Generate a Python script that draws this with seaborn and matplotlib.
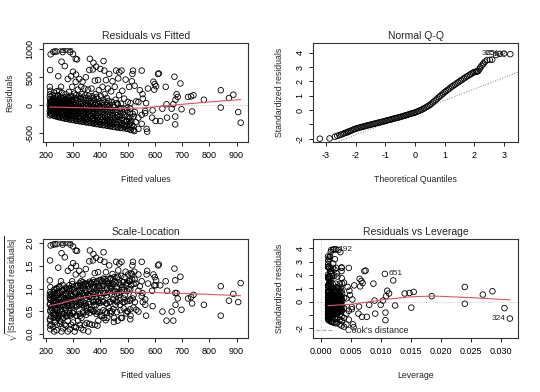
import matplotlib
matplotlib.use("Agg")
import matplotlib.pyplot as plt
import seaborn as sns
from matplotlib.lines import Line2D

# ---- Residuals vs Fitted (one line per fitted-value band)
rvf_fitted = (
    [215, 216, 215, 217, 216, 215, 217, 216, 215, 216, 217, 215, 216, 218]
    + [222, 227, 224, 229, 221, 226, 223, 228, 225, 230]
    + [232, 237, 234, 239, 231, 236, 233, 238, 235, 240, 228]
    + [242, 247, 244, 249, 241, 246, 243, 248, 245, 250, 246, 234]
    + [252, 257, 254, 259, 251, 256, 253, 258, 255, 260, 256, 258]
    + [265, 270, 267, 272, 264, 269, 266, 271, 268, 273, 270, 240]
    + [277, 282, 279, 284, 276, 281, 278, 283, 280, 285, 281, 262]
    + [289, 294, 291, 296, 288, 293, 290, 295, 292, 297, 293, 290]
    + [302, 307, 304, 309, 301, 306, 303, 308, 305, 310, 300, 300, 310, 315, 311]
    + [315, 320, 317, 322, 314, 319, 316, 321, 318, 323]
    + [327, 332, 329, 334, 326, 331, 328, 333, 330, 335]
    + [339, 344, 341, 346, 338, 343, 340, 345, 342, 347]
    + [352, 357, 354, 359, 351, 356, 353, 358, 355, 360, 362]
    + [365, 370, 367, 372, 364, 369, 366, 371, 368, 373, 375]
    + [377, 382, 379, 384, 376, 381, 378, 383, 380, 385]
    + [389, 394, 391, 396, 388, 393, 390, 395, 392, 400]
    + [402, 407, 404, 409, 401, 406, 403, 408, 412, 415]
    + [415, 420, 417, 422, 414, 419, 416, 421]
    + [427, 432, 429, 434, 426, 431, 428, 433]
    + [439, 444, 441, 446, 438, 443, 440, 445]
    + [452, 457, 454, 459, 451, 456, 453, 458]
    + [465, 470, 467, 472, 464, 469, 466, 470]
    + [477, 482, 479, 484, 476, 481, 478]
    + [489, 494, 491, 496, 488, 493]
    + [502, 507, 504, 509, 501, 506]
    + [512, 517, 514, 519, 511, 516, 518, 520]
    + [525, 530, 527, 532, 526]
    + [540, 540, 540, 545]
    + [552, 552, 552, 555, 556]
    + [565, 565, 568, 570, 572, 575]
    + [590, 592, 595, 598, 600, 603, 605]
    + [612, 615, 620, 628, 640, 643, 645]
    + [662, 668, 672, 675, 675, 676, 680, 684, 694, 698]
    + [722, 733, 737, 742, 780, 842, 842, 872, 888, 906, 915]
)
rvf_resid = (
    [-180, -140, -100, -60, -20, 20, 60, 100, 150, 200, 260, 330, 630, 910]
    + [-170, -120, -70, -30, 10, 50, 90, 130, 180, 230]
    + [-190, -130, -80, -40, 0, 40, 80, 120, 170, 250, 955]
    + [-200, -150, -100, -50, -10, 30, 70, 110, 180, 260, 520, 960]
    + [-210, -160, -110, -60, -20, 20, 60, 100, 150, 220, 330, 780]
    + [-230, -170, -120, -70, -30, 10, 50, 90, 140, 200, 700, 960]
    + [-240, -180, -130, -80, -40, 0, 40, 90, 150, 240, 470, 950]
    + [-250, -190, -140, -90, -50, -10, 40, 100, 170, 330, 520, 950]
    + [-260, -200, -150, -100, -50, 0, 60, 130, 210, 420, 600, 915, 830, 820, 550]
    + [-270, -210, -150, -100, -40, 20, 90, 170, 280, 470]
    + [-280, -220, -160, -100, -40, 30, 110, 200, 330, 420]
    + [-290, -230, -170, -110, -50, 10, 90, 180, 300, 500]
    + [-300, -240, -180, -120, -60, 0, 80, 170, 280, 630, 830]
    + [-310, -250, -190, -130, -70, -10, 70, 160, 300, 640, 760]
    + [-320, -260, -190, -130, -60, 10, 100, 200, 440, 690]
    + [-330, -270, -200, -130, -60, 20, 120, 270, 450, 650]
    + [-340, -270, -200, -120, -40, 40, 160, 330, 790, 620]
    + [-350, -280, -200, -110, -30, 60, 200, 450]
    + [-360, -290, -210, -120, -30, 80, 300, 560]
    + [-370, -300, -220, -140, -50, 60, 250, 430]
    + [-380, -300, -220, -130, -30, 100, 330, 620]
    + [-390, -300, -200, -100, 20, 180, 480, 590]
    + [-400, -320, -230, -120, 30, 260, 620]
    + [-380, -290, -180, -50, 120, 460]
    + [-420, -330, -240, -130, 60, 330]
    + [-440, -350, -280, -150, 40, 430, 560, 620]
    + [-460, -300, -120, 70, 350]
    + [-420, -220, 60, 270]
    + [-330, -170, 620, 200, 120]
    + [-100, -140, 40, -420, -470, 300]
    + [-220, -90, 420, 280, 380, -280, 340]
    + [560, 570, -280, -60, 330, 20, -220]
    + [-60, 20, 510, -200, -340, 100, 200, 150, 390, -70]
    + [150, 160, -110, 180, 100, 270, -40, 130, 190, -120, -310]
)
# the dark band below the smoother, between the bands above
rvf_band_fitted = (
    [220] * 7 + [230] * 8 + [240] * 8 + [250] * 9 + [262] * 9 + [274] * 9
    + [286] * 9 + [298] * 9 + [311] * 9 + [324] * 8 + [336] * 8 + [348] * 8
    + [361] * 8 + [374] * 8 + [386] * 8 + [398] * 7 + [411] * 7 + [424] * 7
    + [436] * 6 + [448] * 6 + [461] * 6 + [474] * 5 + [486] * 5 + [498] * 5
    + [510] * 5 + [522] * 3
)
rvf_band_resid = (
    [-160, -120, -80, -40, 0, 40, 80]
    + [-180, -150, -100, -50, -10, 30, 70, 110]
    + [-200, -165, -120, -70, -25, 15, 55, 95]
    + [-215, -180, -130, -85, -40, 0, 45, 85, 125]
    + [-225, -195, -145, -95, -50, -5, 35, 75, 120]
    + [-240, -205, -155, -105, -60, -20, 25, 70, 115]
    + [-250, -215, -165, -115, -70, -30, 15, 65, 130]
    + [-262, -225, -175, -125, -75, -25, 25, 85, 150]
    + [-275, -235, -180, -125, -75, -20, 35, 100, 180]
    + [-285, -245, -190, -130, -70, -10, 55, 130]
    + [-295, -255, -195, -135, -75, -15, 50, 140]
    + [-305, -265, -205, -145, -85, -25, 40, 130]
    + [-315, -275, -210, -150, -90, -30, 40, 120]
    + [-325, -285, -220, -160, -100, -40, 35, 130]
    + [-335, -295, -225, -160, -95, -25, 50, 150]
    + [-345, -300, -235, -165, -95, -20, 70]
    + [-355, -305, -235, -160, -80, 0, 100]
    + [-365, -320, -245, -165, -75, 10, 130]
    + [-375, -330, -255, -175, -90, 10]
    + [-385, -335, -260, -180, -95, 0]
    + [-395, -340, -260, -175, -80, 40]
    + [-405, -355, -265, -160, -50]
    + [-410, -355, -270, -170, -60]
    + [-420, -360, -290, -200, -90]
    + [-430, -380, -310, -210, -60]
    + [-440, -380, -200]
)
rvf_smooth_x = [215, 300, 400, 480, 546, 620, 729, 820, 915]
rvf_smooth_y = [-30, -40, -50, -58, -50, -18, 31, 68, 103]
rvf_ids = ["192", "651", "325"]
rvf_id_x = [228, 234, 240]
rvf_id_y = [955, 960, 960]

# ---- Normal Q-Q
qq_theoretical = (
    [-3.21, -2.88, -2.70, -2.62, -2.55, -2.49, -2.43, -2.38, -2.33, -2.28]
    + [-2.25, -2.20, -2.15, -2.10, -2.05, -2.00]
    + [-1.95, -1.90, -1.85, -1.80, -1.75, -1.70, -1.65, -1.60, -1.55, -1.50]
    + [-1.45, -1.40, -1.35, -1.30, -1.25, -1.20, -1.15, -1.10, -1.05, -1.00]
    + [-0.95, -0.90, -0.85, -0.80, -0.75, -0.70, -0.65, -0.60, -0.55, -0.50]
    + [-0.45, -0.40, -0.35, -0.30, -0.25, -0.20, -0.15, -0.10, -0.05, 0.00]
    + [0.05, 0.10, 0.15, 0.20, 0.25, 0.30, 0.35, 0.40, 0.45, 0.50]
    + [0.55, 0.60, 0.65, 0.70, 0.75, 0.80, 0.85, 0.90, 0.95, 1.00]
    + [1.05, 1.10, 1.15, 1.20, 1.25, 1.30, 1.35, 1.40, 1.45, 1.50]
    + [1.55, 1.60, 1.65, 1.70, 1.75, 1.80, 1.85, 1.90, 1.95, 2.00]
    + [2.05, 2.09, 2.13, 2.17, 2.20, 2.24, 2.28, 2.31, 2.36, 2.43, 2.52, 2.60, 2.73, 2.86, 3.00, 3.21]
)
qq_sample = (
    [-2.00, -1.98, -1.86, -1.80, -1.75, -1.71, -1.66, -1.62, -1.58, -1.55]
    + [-1.51, -1.47, -1.43, -1.38, -1.34, -1.30]
    + [-1.27, -1.24, -1.21, -1.18, -1.16, -1.13, -1.10, -1.07, -1.05, -1.02]
    + [-0.99, -0.97, -0.94, -0.91, -0.89, -0.86, -0.84, -0.81, -0.79, -0.76]
    + [-0.73, -0.70, -0.68, -0.65, -0.62, -0.59, -0.56, -0.54, -0.51, -0.48]
    + [-0.45, -0.42, -0.39, -0.36, -0.33, -0.29, -0.26, -0.23, -0.20, -0.17]
    + [-0.13, -0.08, -0.04, 0.01, 0.05, 0.11, 0.17, 0.23, 0.29, 0.35]
    + [0.44, 0.53, 0.62, 0.71, 0.80, 0.89, 0.98, 1.07, 1.16, 1.25]
    + [1.33, 1.41, 1.49, 1.57, 1.65, 1.72, 1.79, 1.86, 1.93, 2.00]
    + [2.07, 2.14, 2.21, 2.28, 2.35, 2.41, 2.47, 2.54, 2.60, 2.66]
    + [2.68, 2.69, 2.72, 2.85, 2.98, 3.08, 3.18, 3.26, 3.38, 3.49, 3.50, 3.52, 3.84, 3.92, 3.94, 3.90]
)
qq_line_intercept = -0.13
qq_line_slope = 0.80
qq_ids = ["325", "651", "192"]
qq_id_x = [2.86, 3.00, 3.21]
qq_id_y = [3.92, 3.94, 3.90]

# ---- Scale-Location (same fitted bands as the first panel, plus extra points)
sl_root = (
    [0.86, 0.76, 0.64, 0.49, 0.29, 0.33, 0.52, 0.67, 0.80, 0.92, 1.03, 1.18, 1.62, 1.95]
    + [0.83, 0.70, 0.53, 0.35, 0.20, 0.45, 0.61, 0.73, 0.86, 0.97]
    + [0.88, 0.73, 0.57, 0.40, 0.05, 0.42, 0.59, 0.70, 0.83, 1.01, 1.97]
    + [0.90, 0.78, 0.64, 0.45, 0.20, 0.35, 0.53, 0.67, 0.86, 1.03, 1.46, 1.98]
    + [0.93, 0.81, 0.67, 0.49, 0.29, 0.27, 0.50, 0.64, 0.78, 0.95, 1.16, 1.78]
    + [0.97, 0.83, 0.70, 0.53, 0.35, 0.20, 0.45, 0.61, 0.76, 0.90, 1.69, 1.98]
    + [0.99, 0.86, 0.73, 0.57, 0.40, 0.05, 0.40, 0.61, 0.78, 0.99, 1.39, 1.97]
    + [1.01, 0.88, 0.76, 0.61, 0.45, 0.20, 0.40, 0.64, 0.83, 1.16, 1.46, 1.97]
    + [1.03, 0.90, 0.78, 0.64, 0.45, 0.05, 0.49, 0.73, 0.93, 1.31, 1.56, 1.93, 1.84, 1.83, 1.50]
    + [1.05, 0.93, 0.78, 0.64, 0.40, 0.29, 0.61, 0.83, 1.07, 1.39]
    + [1.07, 0.95, 0.81, 0.64, 0.40, 0.35, 0.67, 0.90, 1.16, 1.31]
    + [1.09, 0.97, 0.83, 0.67, 0.45, 0.20, 0.61, 0.86, 1.11, 1.43]
    + [1.11, 0.99, 0.86, 0.70, 0.49, 0.05, 0.57, 0.83, 1.07, 1.60, 1.84]
    + [1.12, 1.01, 0.88, 0.73, 0.53, 0.20, 0.53, 0.81, 1.11, 1.62, 1.76]
    + [1.14, 1.03, 0.88, 0.73, 0.49, 0.20, 0.64, 0.90, 1.34, 1.68]
    + [1.16, 1.05, 0.90, 0.73, 0.49, 0.29, 0.70, 1.05, 1.36, 1.63]
    + [1.18, 1.05, 0.90, 0.70, 0.40, 0.40, 0.81, 1.16, 1.80, 1.59]
    + [1.20, 1.07, 0.90, 0.67, 0.35, 0.49, 0.90, 1.36]
    + [1.21, 1.09, 0.93, 0.70, 0.35, 0.57, 1.11, 1.51]
    + [1.23, 1.11, 0.95, 0.76, 0.45, 0.49, 1.01, 1.32]
    + [1.25, 1.11, 0.95, 0.73, 0.35, 0.64, 1.16, 1.59]
    + [1.26, 1.11, 0.90, 0.64, 0.29, 0.86, 1.40, 1.55]
    + [1.28, 1.14, 0.97, 0.70, 0.35, 1.03, 1.59]
    + [1.25, 1.09, 0.86, 0.45, 0.70, 1.37]
    + [1.31, 1.16, 0.99, 0.73, 0.49, 1.16]
    + [1.34, 1.20, 1.07, 0.78, 0.40, 1.32, 1.51, 1.59]
    + [1.37, 1.11, 0.70, 0.53, 1.20]
    + [1.31, 0.95, 0.49, 1.05]
    + [1.16, 0.83, 1.59, 0.90, 0.70]
    + [0.64, 0.76, 0.40, 1.31, 1.39, 1.11]
    + [0.95, 0.61, 1.31, 1.07, 1.25, 1.07, 1.18]
    + [1.51, 1.53, 1.07, 0.49, 1.16, 0.29, 0.95]
    + [0.49, 0.29, 1.44, 0.90, 1.18, 0.64, 0.90, 0.78, 1.26, 0.53]
    + [0.78, 0.81, 0.67, 0.86, 0.64, 1.05, 0.40, 0.73, 0.88, 0.70, 1.12]
)
sl_low_fitted = [217, 228, 240, 252, 263, 275, 288, 300, 312, 325, 338, 350,
                 216, 233, 258, 281, 305, 330, 360, 390, 420, 450, 480, 510]
sl_low_root = [0.10, 0.15, 0.08, 0.22, 0.12, 0.18, 0.10, 0.25, 0.14, 0.20, 0.08, 0.24,
               0.18, 0.26, 0.05, 0.28, 0.15, 0.12, 0.22, 0.18, 0.30, 0.26, 0.35, 0.32]
sl_band_fitted = (
    [220] * 4 + [230] * 4 + [240] * 5 + [250] * 5 + [262] * 5 + [274] * 5
    + [286] * 5 + [298] * 5 + [311] * 5 + [324] * 5 + [336] * 5 + [348] * 5
    + [361] * 5 + [374] * 5 + [386] * 5 + [398] * 5 + [411] * 5 + [424] * 5
    + [436] * 5 + [448] * 4 + [461] * 5 + [474] * 4 + [486] * 4 + [498] * 4
    + [510] * 4 + [522] * 3
)
sl_band_root = (
    [0.38, 0.58, 0.74, 0.88]
    + [0.42, 0.62, 0.78, 0.92]
    + [0.36, 0.55, 0.71, 0.85, 0.99]
    + [0.40, 0.60, 0.76, 0.90, 1.05]
    + [0.44, 0.63, 0.80, 0.95, 1.08]
    + [0.38, 0.57, 0.74, 0.89, 1.02]
    + [0.42, 0.62, 0.79, 0.94, 1.07]
    + [0.46, 0.66, 0.83, 0.97, 1.10]
    + [0.40, 0.60, 0.77, 0.92, 1.06]
    + [0.44, 0.64, 0.81, 0.96, 1.12]
    + [0.48, 0.68, 0.85, 1.00, 1.14]
    + [0.42, 0.62, 0.80, 0.95, 1.10]
    + [0.46, 0.66, 0.84, 0.99, 1.15]
    + [0.50, 0.70, 0.88, 1.03, 1.18]
    + [0.44, 0.64, 0.82, 0.98, 1.13]
    + [0.48, 0.68, 0.86, 1.02, 1.19]
    + [0.52, 0.72, 0.90, 1.06, 1.22]
    + [0.46, 0.67, 0.85, 1.01, 1.16]
    + [0.50, 0.71, 0.89, 1.05, 1.21]
    + [0.55, 0.75, 0.93, 1.09]
    + [0.48, 0.70, 0.88, 1.04, 1.24]
    + [0.52, 0.74, 0.92, 1.08]
    + [0.56, 0.78, 0.96, 1.14]
    + [0.50, 0.72, 0.94, 1.12]
    + [0.54, 0.76, 0.98, 1.18]
    + [0.58, 0.85, 1.10]
)
sl_smooth_x = [215, 260, 300, 350, 400, 450, 500, 600, 700, 800, 915]
sl_smooth_y = [0.62, 0.68, 0.75, 0.82, 0.87, 0.90, 0.92, 0.91, 0.89, 0.87, 0.84]
sl_ids = ["192", "651", "325"]
sl_id_x = [228, 234, 240]
sl_id_y = [1.97, 1.98, 1.98]

# ---- Residuals vs Leverage
rvl_leverage = (
    [0.0035, 0.0034, 0.0036, 0.0035, 0.0034, 0.0036, 0.0035, 0.0034, 0.0036, 0.0035, 0.0034, 0.0036, 0.0035, 0.0033]
    + [0.0032, 0.0031, 0.0033, 0.0031, 0.0033, 0.0032, 0.0031, 0.0032, 0.0033, 0.0031]
    + [0.0030, 0.0029, 0.0031, 0.0029, 0.0031, 0.0030, 0.0029, 0.0030, 0.0031, 0.0029, 0.0030]
    + [0.0027, 0.0026, 0.0028, 0.0027, 0.0028, 0.0026, 0.0027, 0.0028, 0.0026, 0.0027, 0.0027, 0.0026]
    + [0.0025, 0.0024, 0.0025, 0.0024, 0.0026, 0.0025, 0.0024, 0.0025, 0.0026, 0.0024, 0.0025, 0.0024]
    + [0.0022, 0.0021, 0.0023, 0.0021, 0.0022, 0.0023, 0.0022, 0.0021, 0.0022, 0.0023, 0.0021, 0.0023]
    + [0.0020, 0.0019, 0.0021, 0.0019, 0.0020, 0.0021, 0.0020, 0.0019, 0.0020, 0.0021, 0.0019, 0.0021]
    + [0.0018, 0.0017, 0.0018, 0.0017, 0.0019, 0.0018, 0.0017, 0.0018, 0.0019, 0.0017, 0.0018, 0.0018]
    + [0.0016, 0.0015, 0.0016, 0.0015, 0.0017, 0.0016, 0.0015, 0.0016, 0.0017, 0.0015, 0.0017, 0.0017, 0.0016, 0.0015, 0.0016]
    + [0.0015, 0.0014, 0.0015, 0.0014, 0.0015, 0.0014, 0.0015, 0.0014, 0.0015, 0.0014]
    + [0.0014, 0.0013, 0.0014, 0.0013, 0.0014, 0.0013, 0.0014, 0.0013, 0.0014, 0.0013]
    + [0.0013, 0.00128, 0.0013, 0.00128, 0.0013, 0.00128, 0.0013, 0.00128, 0.0013, 0.00128]
    + [0.00126, 0.00125, 0.00127, 0.00126, 0.00125, 0.00127, 0.00126, 0.00125, 0.00127, 0.00126, 0.00125]
    + [0.00125, 0.00126, 0.00125, 0.00126, 0.00125, 0.00126, 0.00125, 0.00126, 0.00125, 0.00126, 0.00127]
    + [0.00127, 0.00128, 0.00127, 0.00128, 0.00127, 0.00128, 0.00127, 0.00128, 0.00127, 0.00128]
    + [0.0013, 0.00132, 0.0013, 0.00132, 0.0013, 0.00132, 0.0013, 0.00132, 0.0013, 0.00135]
    + [0.0014, 0.00142, 0.0014, 0.00142, 0.0014, 0.00142, 0.0014, 0.00142, 0.00145, 0.0015]
    + [0.0015, 0.00152, 0.0015, 0.00152, 0.0015, 0.00152, 0.0015, 0.00152]
    + [0.0017, 0.00172, 0.0017, 0.00172, 0.0017, 0.00172, 0.0017, 0.00172]
    + [0.0018, 0.00182, 0.0018, 0.00182, 0.0018, 0.00182, 0.0018, 0.00182]
    + [0.0020, 0.00202, 0.0020, 0.00202, 0.0020, 0.00202, 0.0020, 0.00202]
    + [0.0023, 0.00232, 0.0023, 0.00232, 0.0023, 0.00232, 0.0023, 0.00232]
    + [0.0026, 0.00262, 0.0026, 0.00262, 0.0026, 0.00262, 0.0026]
    + [0.0028, 0.00282, 0.0028, 0.00282, 0.0028, 0.00282]
    + [0.0032, 0.00322, 0.0032, 0.00322, 0.0032, 0.00322]
    + [0.0035, 0.00352, 0.0035, 0.00352, 0.0035, 0.00352, 0.0035, 0.00352]
    + [0.0039, 0.00392, 0.0039, 0.00392, 0.0039]
    + [0.0043, 0.0043, 0.0043, 0.0045]
    + [0.0047, 0.0047, 0.0047, 0.0048, 0.0049]
    + [0.0052, 0.0052, 0.0053, 0.0054, 0.0055, 0.0056]
    + [0.0063, 0.0064, 0.0065, 0.0066, 0.0068, 0.0069, 0.0070]
    + [0.0073, 0.0075, 0.0077, 0.0081, 0.0088, 0.0090, 0.0091]
    + [0.0100, 0.0104, 0.0107, 0.0108, 0.0108, 0.0109, 0.0111, 0.0114, 0.0121, 0.0124]
    + [0.0140, 0.0148, 0.0151, 0.0155, 0.0185, 0.0240, 0.0240, 0.0270, 0.0286, 0.0306, 0.0315]
)
rvl_std_resid = (
    [-0.73, -0.57, -0.41, -0.24, -0.08, 0.08, 0.24, 0.41, 0.61, 0.82, 1.06, 1.35, 2.57, 3.71]
    + [-0.69, -0.49, -0.29, -0.12, 0.04, 0.20, 0.37, 0.53, 0.73, 0.94]
    + [-0.78, -0.53, -0.33, -0.16, 0.00, 0.16, 0.33, 0.49, 0.69, 1.02, 3.88]
    + [-0.82, -0.61, -0.41, -0.20, -0.04, 0.12, 0.29, 0.45, 0.73, 1.06, 2.12, 3.92]
    + [-0.86, -0.65, -0.45, -0.24, -0.08, 0.08, 0.24, 0.41, 0.61, 0.90, 1.35, 3.18]
    + [-0.94, -0.69, -0.49, -0.29, -0.12, 0.04, 0.20, 0.37, 0.57, 0.82, 2.86, 3.92]
    + [-0.98, -0.73, -0.53, -0.33, -0.16, 0.00, 0.16, 0.37, 0.61, 0.98, 1.92, 3.90]
    + [-1.02, -0.78, -0.57, -0.37, -0.20, -0.04, 0.16, 0.41, 0.69, 1.35, 2.12, 3.88]
    + [-1.06, -0.82, -0.61, -0.41, -0.20, 0.00, 0.24, 0.53, 0.86, 1.71, 2.45, 3.73, 3.39, 3.35, 2.24]
    + [-1.10, -0.86, -0.61, -0.41, -0.16, 0.08, 0.37, 0.69, 1.14, 1.92]
    + [-1.14, -0.90, -0.65, -0.41, -0.16, 0.12, 0.45, 0.82, 1.35, 1.71]
    + [-1.18, -0.94, -0.69, -0.45, -0.20, 0.04, 0.37, 0.73, 1.22, 2.04]
    + [-1.22, -0.98, -0.73, -0.49, -0.24, 0.00, 0.33, 0.69, 1.14, 2.57, 3.39]
    + [-1.27, -1.02, -0.78, -0.53, -0.29, -0.04, 0.29, 0.65, 1.22, 2.61, 3.10]
    + [-1.31, -1.06, -0.78, -0.53, -0.24, 0.04, 0.41, 0.82, 1.80, 2.82]
    + [-1.35, -1.10, -0.82, -0.53, -0.24, 0.08, 0.49, 1.10, 1.84, 2.65]
    + [-1.39, -1.10, -0.82, -0.49, -0.16, 0.16, 0.65, 1.35, 3.22, 2.53]
    + [-1.43, -1.14, -0.82, -0.45, -0.12, 0.24, 0.82, 1.84]
    + [-1.47, -1.18, -0.86, -0.49, -0.12, 0.33, 1.22, 2.29]
    + [-1.51, -1.22, -0.90, -0.57, -0.20, 0.24, 1.02, 1.76]
    + [-1.55, -1.22, -0.90, -0.53, -0.12, 0.41, 1.35, 2.53]
    + [-1.59, -1.22, -0.82, -0.41, 0.08, 0.73, 1.96, 2.41]
    + [-1.63, -1.31, -0.94, -0.49, 0.12, 1.06, 2.53]
    + [-1.55, -1.18, -0.73, -0.20, 0.49, 1.88]
    + [-1.71, -1.35, -0.98, -0.53, 0.24, 1.35]
    + [-1.80, -1.43, -1.14, -0.61, 0.16, 1.76, 2.29, 2.53]
    + [-1.88, -1.22, -0.49, 0.29, 1.43]
    + [-1.71, -0.90, 0.24, 1.10]
    + [-1.35, -0.69, 2.53, 0.82, 0.49]
    + [-0.41, -0.57, 0.16, -1.71, -1.92, 1.22]
    + [-0.90, -0.37, 1.71, 1.14, 1.55, -1.14, 1.39]
    + [2.29, 2.33, -1.14, -0.24, 1.35, 0.08, -0.90]
    + [-0.24, 0.08, 2.08, -0.82, -1.39, 0.41, 0.82, 0.61, 1.59, -0.29]
    + [0.61, 0.65, -0.45, 0.73, 0.41, 1.10, -0.16, 0.53, 0.78, -0.49, -1.27]
)
rvl_smooth_x = [0.00125, 0.003, 0.005, 0.008, 0.011, 0.015, 0.0188, 0.025, 0.0315]
rvl_smooth_y = [-0.30, -0.25, -0.20, -0.02, 0.18, 0.36, 0.42, 0.30, 0.13]
rvl_ids = ["192", "651", "324"]
rvl_id_x = [0.0023, 0.0107, 0.0315]
rvl_id_y = [3.92, 2.08, -1.27]
rvl_id_side = ["right", "right", "left"]

RED = "#DF536B"

sns.set_theme(style="white")
plt.rcParams["font.family"] = ["Liberation Sans", "DejaVu Sans"]
plt.rcParams["mathtext.fontset"] = "custom"
plt.rcParams["mathtext.rm"] = "Liberation Sans"
plt.rcParams["mathtext.it"] = "Liberation Sans:italic"


def draw_points(ax, x, y):
    sns.scatterplot(x=x, y=y, ax=ax, marker="o", s=16, facecolor="none",
                    edgecolor="black", linewidth=0.6, legend=False, zorder=3)


def draw_smooth(ax, x, y):
    sns.lineplot(x=x, y=y, ax=ax, color=RED, linewidth=0.8, sort=False,
                 estimator=None, zorder=4)


def label_points(ax, ids, xs, ys, side="right"):
    sides = side if isinstance(side, list) else [side] * len(ids)
    for t, x, y, s in zip(ids, xs, ys, sides):
        dx = 3 if s == "right" else -3
        ax.annotate(t, (x, y), xytext=(dx, 0), textcoords="offset points",
                    ha="left" if s == "right" else "right", va="center",
                    fontsize=6, zorder=5)


def style(ax, title, xlabel, ylabel, xticks, xticklabels, yticks, yticklabels,
          xlim, ylim, ylabelpad=8):
    ax.set_xlim(*xlim)
    ax.set_ylim(*ylim)
    ax.set_xticks(xticks, xticklabels)
    ax.set_yticks(yticks, yticklabels)
    ax.tick_params(bottom=True, left=True, direction="out", length=3, width=0.6,
                   color="black", labelsize=6.5, pad=3, labelcolor="black")
    for lab in ax.get_yticklabels():
        lab.set_rotation(90)
        lab.set_va("center")
    for sp in ax.spines.values():
        sp.set_color("#333333")
        sp.set_linewidth(0.8)
    ax.set_title(title, fontsize=7.5, pad=3)
    ax.set_xlabel(xlabel, fontsize=6.3, labelpad=11)
    ax.set_ylabel(ylabel, fontsize=6.3, labelpad=ylabelpad)


fig = plt.figure(figsize=(5.4, 3.92), dpi=100)
fig.patch.set_facecolor("white")
W, H = 540.0, 392.0
ax1 = fig.add_axes([43 / W, 1 - 142.3 / H, 205.3 / W, 99.6 / H])
ax2 = fig.add_axes([312.7 / W, 1 - 142.3 / H, 205.6 / W, 99.6 / H])
ax3 = fig.add_axes([43 / W, 1 - 338.3 / H, 205.3 / W, 99.6 / H])
ax4 = fig.add_axes([312.7 / W, 1 - 338.3 / H, 205.6 / W, 99.6 / H])

# Residuals vs Fitted
ax1.axhline(0, color="#BBBBBB", linestyle=":", linewidth=0.6, zorder=1)
draw_points(ax1, rvf_fitted + rvf_band_fitted, rvf_resid + rvf_band_resid)
draw_smooth(ax1, rvf_smooth_x, rvf_smooth_y)
label_points(ax1, rvf_ids, rvf_id_x, rvf_id_y)
fitted_ticks = [200, 300, 400, 500, 600, 700, 800, 900]
style(ax1, "Residuals vs Fitted", "Fitted values", "Residuals",
      fitted_ticks, [str(t) for t in fitted_ticks],
      [-500, 0, 500, 1000], ["-500", "0", "500", "1000"],
      (190, 943), (-660, 1118))

# Normal Q-Q
ax2.axline((0, qq_line_intercept), slope=qq_line_slope, color="gray",
           linestyle=":", linewidth=0.7, zorder=1)
draw_points(ax2, qq_theoretical, qq_sample)
label_points(ax2, qq_ids, qq_id_x, qq_id_y, side="left")
style(ax2, "Normal Q-Q", "Theoretical Quantiles", "Standardized residuals",
      [-3, -2, -1, 0, 1, 2, 3], ["-3", "-2", "-1", "0", "1", "2", "3"],
      [-2, -1, 0, 1, 2, 3, 4], ["-2", "", "0", "1", "2", "3", "4"],
      (-3.45, 3.48), (-2.25, 4.70))

# Scale-Location
draw_points(ax3, rvf_fitted + sl_low_fitted + sl_band_fitted,
            sl_root + sl_low_root + sl_band_root)
draw_smooth(ax3, sl_smooth_x, sl_smooth_y)
label_points(ax3, sl_ids, sl_id_x, sl_id_y)
style(ax3, "Scale-Location", "Fitted values",
      r"$\sqrt{|\mathrm{Standardized\ residuals}|}$",
      fitted_ticks, [str(t) for t in fitted_ticks],
      [0.0, 0.5, 1.0, 1.5, 2.0], ["0.0", "0.5", "1.0", "1.5", "2.0"],
      (190, 943), (-0.10, 2.10), ylabelpad=4)

# Residuals vs Leverage
ax4.axhline(0, color="#BBBBBB", linestyle=":", linewidth=0.6, zorder=1)
ax4.axvline(0, color="#BBBBBB", linestyle=":", linewidth=0.6, zorder=1)
draw_points(ax4, rvl_leverage, rvl_std_resid)
draw_smooth(ax4, rvl_smooth_x, rvl_smooth_y)
label_points(ax4, rvl_ids, rvl_id_x, rvl_id_y, side=rvl_id_side)
lev_ticks = [0.0, 0.005, 0.010, 0.015, 0.020, 0.025, 0.030]
style(ax4, "Residuals vs Leverage", "Leverage", "Standardized residuals",
      lev_ticks, [f"{t:.3f}" for t in lev_ticks],
      [-2, -1, 0, 1, 2, 3, 4], ["-2", "", "0", "1", "2", "3", "4"],
      (-0.0013, 0.0329), (-2.75, 4.72))
ax4.legend(handles=[Line2D([], [], color="#AAAAAA", linestyle="--", linewidth=0.8)],
           labels=["Cook's distance"], loc="lower left", frameon=False,
           fontsize=6.5, handlelength=2.0, handletextpad=1.2,
           borderaxespad=0.2, borderpad=0.2)

fig.savefig("out.png", dpi=100, facecolor="white")
